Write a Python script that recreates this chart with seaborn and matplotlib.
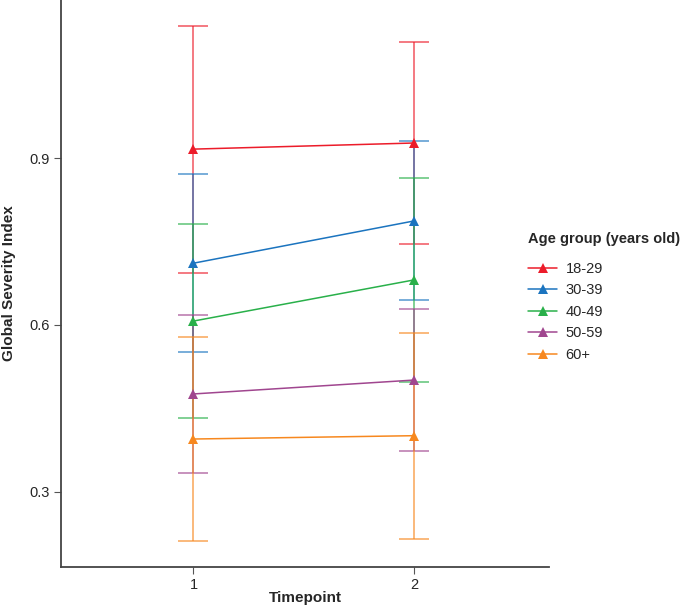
import pandas as pd
import seaborn as sns
import matplotlib.pyplot as plt

# data (mean and error half-width per timepoint)
timepoints = [1, 2]
age_groups = ["18-29", "30-39", "40-49", "50-59", "60+"]
mean_18_29 = [0.916, 0.927]
mean_30_39 = [0.711, 0.787]
mean_40_49 = [0.607, 0.681]
mean_50_59 = [0.476, 0.501]
mean_60p = [0.395, 0.401]
err_18_29 = [0.222, 0.181]
err_30_39 = [0.160, 0.143]
err_40_49 = [0.175, 0.183]
err_50_59 = [0.142, 0.127]
err_60p = [0.183, 0.185]

means = [mean_18_29, mean_30_39, mean_40_49, mean_50_59, mean_60p]
errs = [err_18_29, err_30_39, err_40_49, err_50_59, err_60p]

palette = {
    "18-29": "#ec1c2a",
    "30-39": "#1b74bf",
    "40-49": "#29b04a",
    "50-59": "#a0468f",
    "60+": "#f7881f",
}

rows = []
for g, m, e in zip(age_groups, means, errs):
    for t, mv, ev in zip(timepoints, m, e):
        rows.append({"Timepoint": t, "GSI": mv, "err": ev, "Age group": g})
df = pd.DataFrame(rows)

sns.set_style("ticks")
plt.rcParams["font.family"] = ["Liberation Sans", "DejaVu Sans"]

fig = plt.figure(figsize=(6.81, 6.05), dpi=100)
ax = fig.add_axes([0.0896, 0.0628, 0.806 - 0.0896, 1 - 0.0628])

# error bars first, lighter
for g in age_groups:
    sub = df[df["Age group"] == g]
    ax.errorbar(sub["Timepoint"], sub["GSI"], yerr=sub["err"], fmt="none",
                ecolor=palette[g], alpha=0.75, elinewidth=1.1, capsize=11,
                capthick=1.1, zorder=2)

sns.lineplot(data=df, x="Timepoint", y="GSI", hue="Age group",
             hue_order=age_groups, palette=palette, marker="^",
             markersize=7, markeredgewidth=0, linewidth=1.1, ax=ax, zorder=3)

ax.set_xlim(0.4, 2.61)
ax.set_ylim(0.165, 1.184)
ax.set_xticks([1, 2])
ax.set_yticks([0.3, 0.6, 0.9])
ax.set_yticklabels(["0.3", "0.6", "0.9"])
ax.tick_params(labelsize=10.5, length=5, width=0.8, color="#555555", pad=3)
ax.set_xlabel("Timepoint", fontsize=11, fontweight="bold", labelpad=-1)
ax.set_ylabel("Global Severity Index", fontsize=11, fontweight="bold", labelpad=10)
for s in ["left", "bottom"]:
    ax.spines[s].set_linewidth(1.3)
    ax.spines[s].set_color("#444444")
sns.despine(ax=ax)

handles, labels = ax.get_legend_handles_labels()
leg = fig.legend(handles, labels, title="Age group (years old)",
                 loc="upper left", bbox_to_anchor=(0.764, 0.628),
                 frameon=False, fontsize=10.5, title_fontsize=10.5,
                 borderpad=0, handlelength=2.05, handletextpad=0.55,
                 labelspacing=0.52)
leg.get_title().set_fontweight("bold")
leg._legend_box.align = "left"
leg._legend_box.sep = 11
ax.get_legend().remove()

fig.savefig("out.png", dpi=100)
